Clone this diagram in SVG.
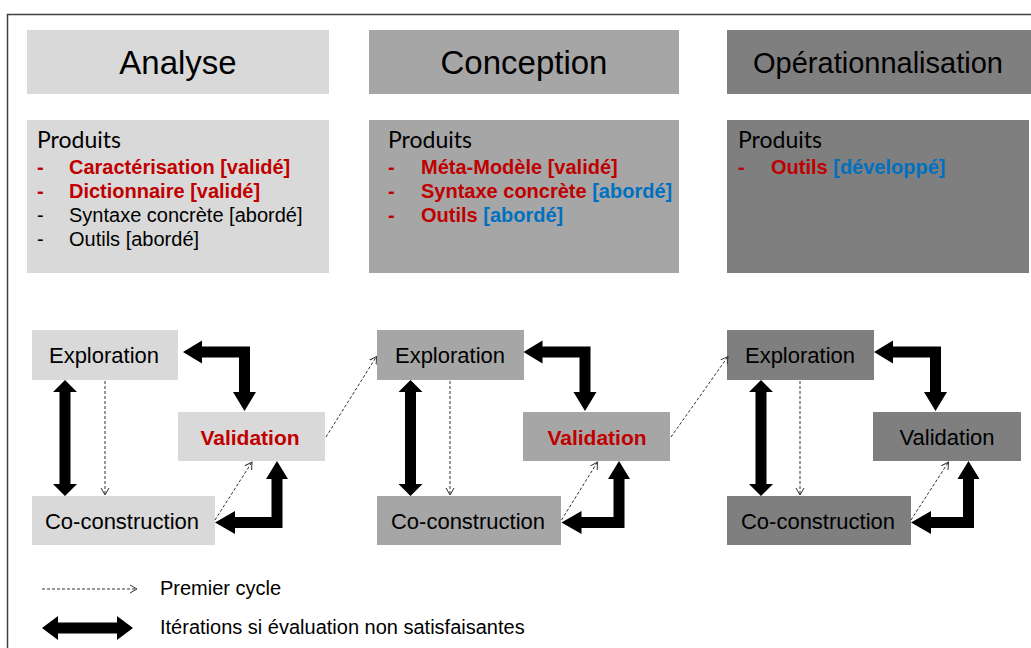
<svg xmlns="http://www.w3.org/2000/svg" width="1031" height="648" viewBox="0 0 1031 648">
<defs>
<style>
.s1{fill:#d9d9d9}.s2{fill:#a6a6a6}.s3{fill:#7f7f7f}
.hd{font-family:"Liberation Sans",Arial,sans-serif;font-size:33px;fill:#000;text-anchor:middle}
.pr{font-family:Lato,"Noto Sans",sans-serif;font-size:23px;fill:#000}
.li{font-family:"Liberation Sans",Arial,sans-serif;font-size:20px;fill:#000}
.nd{font-family:"Liberation Sans",Arial,sans-serif;font-size:22px;fill:#000;text-anchor:middle}
.lg{font-family:"Liberation Sans",Arial,sans-serif;font-size:20px;fill:#000}
.b{font-weight:bold}
text.red,tspan.red{fill:#c00000}
text.blue,tspan.blue{fill:#0070c0}
.dash{fill:none;stroke:#333;stroke-width:1;stroke-dasharray:3,2;marker-end:url(#chev)}
.thick{fill:#000}
</style>
<marker id="chev" markerUnits="userSpaceOnUse" markerWidth="10" markerHeight="10" refX="7" refY="4" orient="auto" viewBox="0 0 10 8">
<path d="M0,0 L7,4 L0,8" fill="none" stroke="#333" stroke-width="1"/>
</marker>
</defs>
<rect width="1031" height="648" fill="#fff"/>
<path d="M7.5,648 V14.5 H1031" fill="none" stroke="#404040" stroke-width="1.5"/>

<g id="header-analyse"><rect class="s1" x="27" y="30" width="302" height="64"/><text class="hd" x="178" y="74">Analyse</text></g>
<g id="header-conception"><rect class="s2" x="369" y="30" width="310" height="64"/><text class="hd" x="524" y="74">Conception</text></g>
<g id="header-operationnalisation"><rect class="s3" x="727" y="30" width="304" height="64"/><text class="hd" x="878" y="73" style="font-size:29px">Opérationnalisation</text></g>

<g id="produits-analyse">
<rect class="s1" x="27" y="120" width="302" height="153"/>
<text class="pr" x="37" y="148">Produits</text>
<text class="li b red" x="37" y="174">-</text><text class="li b red" x="69" y="174">Caractérisation [validé]</text>
<text class="li b red" x="37" y="198">-</text><text class="li b red" x="69" y="198">Dictionnaire [validé]</text>
<text class="li" x="37" y="222">-</text><text class="li" x="69" y="222">Syntaxe concrète [abordé]</text>
<text class="li" x="37" y="246">-</text><text class="li" x="69" y="246">Outils [abordé]</text>
</g>
<g id="produits-conception">
<rect class="s2" x="369" y="120" width="310" height="153"/>
<text class="pr" x="388" y="148">Produits</text>
<text class="li b red" x="388" y="174">-</text><text class="li b red" x="421" y="174">Méta-Modèle [validé]</text>
<text class="li b red" x="388" y="198">-</text><text class="li b" x="421" y="198"><tspan class="red">Syntaxe concrète</tspan> <tspan class="blue">[abordé]</tspan></text>
<text class="li b red" x="388" y="222">-</text><text class="li b" x="421" y="222"><tspan class="red">Outils</tspan> <tspan class="blue">[abordé]</tspan></text>
</g>
<g id="produits-operationnalisation">
<rect class="s3" x="727" y="120" width="302" height="153"/>
<text class="pr" x="738" y="148">Produits</text>
<text class="li b red" x="738" y="174">-</text><text class="li b" x="771" y="174"><tspan class="red">Outils</tspan> <tspan class="blue">[développé]</tspan></text>
</g>

<g id="exploration-1"><rect class="s1" x="32" y="330" width="146" height="50"/><text class="nd" x="104" y="363">Exploration</text></g>
<g id="validation-1"><rect class="s1" x="178" y="412" width="147" height="49"/><text class="nd b red" x="250" y="445" style="font-size:21px">Validation</text></g>
<g id="coconstruction-1"><rect class="s1" x="32" y="496" width="183" height="49"/><text class="nd" x="122" y="529">Co-construction</text></g>

<g id="exploration-2"><rect class="s2" x="377" y="330" width="147" height="50"/><text class="nd" x="450" y="363">Exploration</text></g>
<g id="validation-2"><rect class="s2" x="523" y="412" width="147" height="49"/><text class="nd b red" x="597" y="445" style="font-size:21px">Validation</text></g>
<g id="coconstruction-2"><rect class="s2" x="377" y="496" width="184" height="49"/><text class="nd" x="468" y="529">Co-construction</text></g>

<g id="exploration-3"><rect class="s3" x="727" y="330" width="147" height="50"/><text class="nd" x="800" y="363">Exploration</text></g>
<g id="validation-3"><rect class="s3" x="873" y="412" width="148" height="49"/><text class="nd" x="947" y="445">Validation</text></g>
<g id="coconstruction-3"><rect class="s3" x="727" y="496" width="184" height="49"/><text class="nd" x="818" y="529">Co-construction</text></g>

<g id="connectors">
<polygon class="thick" points="183,352 202,340.5 202,346.5 250,346.5 250,392 256,392 244.5,411 233,392 239,392 239,357.5 202,357.5 202,363.5"/>
<polygon class="thick" points="277,461 288,479 282.5,479 282.5,528 235,528 235,534 215,522.5 235,511 235,517 271.5,517 271.5,479 266,479"/>
<polygon class="thick" points="65,380 77,392 70.5,392 70.5,484 77,484 65,496 53,484 59.5,484 59.5,392 53,392"/>

<polygon class="thick" points="523.5,352 542.5,340.5 542.5,346.5 590.5,346.5 590.5,392 596.5,392 585,411 573.5,392 579.5,392 579.5,357.5 542.5,357.5 542.5,363.5"/>
<polygon class="thick" points="619,461 630,479 624.5,479 624.5,528 581.5,528 581.5,534 561.5,522.5 581.5,511 581.5,517 613.5,517 613.5,479 608,479"/>
<polygon class="thick" points="410.5,380 422.5,392 416,392 416,484 422.5,484 410.5,496 398.5,484 405,484 405,392 398.5,392"/>

<polygon class="thick" points="874,352 893,340.5 893,346.5 941,346.5 941,392 947,392 935.5,411 924,392 930,392 930,357.5 893,357.5 893,363.5"/>
<polygon class="thick" points="968.5,461 979.5,479 974,479 974,528 931,528 931,534 911,522.5 931,511 931,517 963,517 963,479 957.5,479"/>
<polygon class="thick" points="761,380 773,392 766.5,392 766.5,484 773,484 761,496 749,484 755.5,484 755.5,392 749,392"/>

<line class="dash" x1="105" y1="381" x2="105" y2="495"/>
<line class="dash" x1="215" y1="520" x2="252" y2="462"/>
<line class="dash" x1="326" y1="437" x2="376.5" y2="356.5"/>
<line class="dash" x1="450" y1="381" x2="450" y2="495"/>
<line class="dash" x1="561.5" y1="520" x2="597.5" y2="462"/>
<line class="dash" x1="671" y1="437" x2="728" y2="356.5"/>
<line class="dash" x1="800" y1="381" x2="800" y2="495"/>
<line class="dash" x1="911" y1="520" x2="948.5" y2="462"/>
</g>

<g id="legend">
<line class="dash" x1="42" y1="589" x2="137" y2="589"/>
<text class="lg" x="160" y="595">Premier cycle</text>
<polygon class="thick" points="42,628 58,616 58,622.5 117,622.5 117,616 133,628 117,640 117,633.5 58,633.5 58,640"/>
<text class="lg" x="160" y="634">Itérations si évaluation non satisfaisantes</text>
</g>
</svg>
